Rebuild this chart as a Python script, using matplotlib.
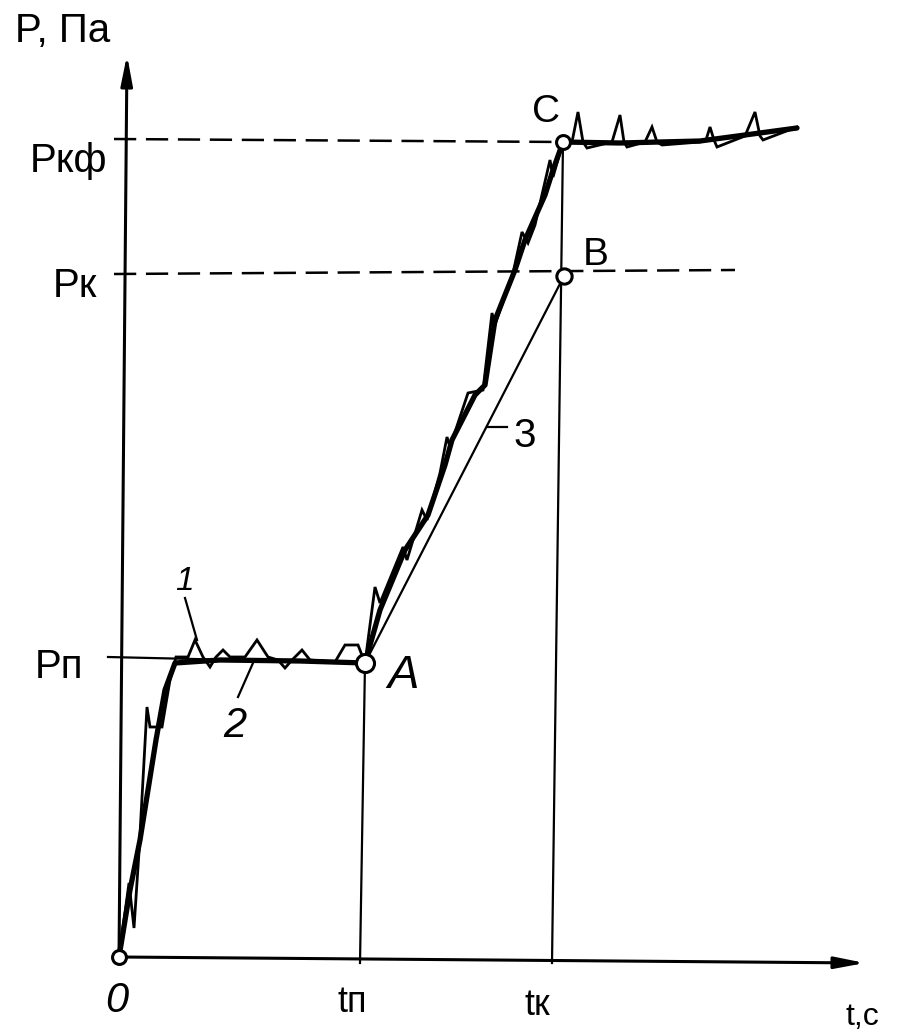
import matplotlib
matplotlib.use('Agg')
import matplotlib.pyplot as plt

plt.rcParams['font.family'] = ['Liberation Sans', 'DejaVu Sans']
plt.rcParams['lines.scale_dashes'] = False

# key points (t, P) in drawing units
t_p, t_k = 2.41, 4.33
P_p, P_k, P_kf = 3.00, 6.83, 8.18
A = (2.46, 2.94)
B = (4.45, 6.81)
C = (4.44, 8.15)

# curve 2 - smoothed (thick) pressure curve
t2 = [0.00, 0.11, 0.21, 0.29, 0.37, 0.46, 0.56, 1.01, 1.81, 2.46,
      2.61, 2.86, 3.09, 3.26, 3.33, 3.56, 3.66, 3.76, 3.96, 4.06, 4.26, 4.34, 4.44,
      5.01, 5.81, 6.26, 6.78]
P2 = [0.00, 0.67, 1.17, 1.67, 2.17, 2.67, 2.94, 2.97, 2.96, 2.94,
      3.47, 4.07, 4.42, 4.92, 5.17, 5.62, 5.72, 6.37, 6.87, 7.17, 7.62, 7.87, 8.15,
      8.14, 8.16, 8.22, 8.29]

# curve 1 - real (pulsating) pressure curve
t1 = [0.00, 0.10, 0.15, 0.20, 0.28, 0.31, 0.43, 0.51, 0.57, 0.69, 0.76, 0.84, 0.91,
      0.97, 1.04, 1.11, 1.26, 1.38, 1.49, 1.59, 1.66, 1.73, 1.83, 1.91, 2.16, 2.26,
      2.39, 2.46,
      2.56, 2.61, 2.84, 2.88, 3.03, 3.08, 3.21, 3.28, 3.31, 3.49, 3.64, 3.73, 3.76,
      3.94, 4.03, 4.09, 4.16, 4.31, 4.34, 4.44,
      4.53, 4.59, 4.64, 4.68, 4.93, 5.01, 5.05, 5.08, 5.26, 5.33, 5.38, 5.43, 5.81,
      5.87, 5.91, 5.95, 5.98, 6.26, 6.36, 6.41, 6.44, 6.78]
P1 = [0.00, 0.74, 0.29, 1.05, 2.50, 2.30, 2.30, 2.77, 3.00, 3.00, 3.17, 3.00, 2.90,
      3.00, 3.07, 3.00, 3.00, 3.17, 3.00, 2.97, 2.89, 2.97, 3.07, 2.97, 2.95, 3.12,
      3.12, 2.94,
      3.70, 3.54, 4.10, 3.97, 4.47, 4.37, 4.84, 5.20, 5.10, 5.64, 5.67, 6.44, 6.32,
      6.84, 7.25, 7.14, 7.32, 7.97, 7.80, 8.15,
      8.15, 8.45, 8.15, 8.09, 8.15, 8.42, 8.15, 8.10, 8.15, 8.30, 8.15, 8.12, 8.15,
      8.17, 8.30, 8.17, 8.10, 8.21, 8.45, 8.21, 8.17, 8.30]

fig = plt.figure(figsize=(9, 10.34), dpi=100)
ax = fig.add_axes([0, 0, 1, 1])
ax.set_xlim(-1.19, 7.81)
ax.set_ylim(-0.77, 9.57)
ax.axis('off')

k = 'black'

# axes with arrows
arrow = dict(arrowstyle='-|>,head_length=1.8,head_width=0.35', lw=2.2, color=k,
             shrinkA=0, shrinkB=0, mutation_scale=10)
ax.annotate('', xy=(0.08, 9.02), xytext=(0, 0), arrowprops=arrow)
ax.annotate('', xy=(7.46, -0.06), xytext=(0, 0), arrowprops=arrow)

# reference lines
ax.plot([-0.11, A[0]], [P_p, A[1]], color=k, lw=1.6)
ax.plot([-0.05, 6.16], [P_k, 6.87], color=k, lw=1.8, dashes=(16, 7))
ax.plot([-0.05, C[0]], [P_kf, C[1]], color=k, lw=1.8, dashes=(16, 7))
ax.plot([t_p, A[0]], [-0.06, A[1]], color=k, lw=1.6)
ax.plot([t_k, C[0]], [-0.06, C[1]], color=k, lw=1.6)

# line 3 (A-B)
ax.plot([A[0], B[0]], [A[1], B[1]], color=k, lw=1.6)

# curves 1 and 2
ax.plot(t1, P1, color=k, lw=2.0, solid_joinstyle='miter')
ax.plot(t2, P2, color=k, lw=3.8, solid_capstyle='round')

# open circles
circ = dict(marker='o', mfc='white', mec=k, mew=2.2, ls='none', zorder=5)
ax.plot([0], [0], ms=10, **circ)
ax.plot([A[0]], [A[1]], ms=13, **circ)
ax.plot([B[0]], [B[1]], ms=11, **circ)
ax.plot([C[0]], [C[1]], ms=10, **circ)

# labels
ax.text(-1.04, 9.15, 'P, Па', fontsize=29)
ax.text(-0.89, 7.85, 'Pкф', fontsize=29)
ax.text(-0.66, 6.60, 'Pк', fontsize=29)
ax.text(-0.84, 2.79, 'Pп', fontsize=29)
ax.text(-0.14, -0.55, '0', fontsize=30, style='italic')
ax.text(2.19, -0.55, 'tп', fontsize=26)
ax.text(4.06, -0.58, 'tк', fontsize=26)
ax.text(7.27, -0.68, 't,c', fontsize=23)
ax.text(4.13, 8.35, 'C', fontsize=28)
ax.text(4.64, 6.92, 'B', fontsize=28)
ax.text(2.68, 2.69, 'A', fontsize=34, style='italic')

# curve numbers with leaders
ax.text(0.56, 3.67, '1', fontsize=24, style='italic')
ax.plot([0.66, 0.78], [3.59, 3.17], color=k, lw=1.6)
ax.text(1.04, 2.20, '2', fontsize=30, style='italic')
ax.plot([1.19, 1.34], [2.60, 2.94], color=k, lw=1.6)
ax.text(3.94, 5.10, '3', fontsize=29)
ax.plot([3.68, 3.88], [5.30, 5.30], color=k, lw=1.6)

fig.savefig('out.png', dpi=100)
